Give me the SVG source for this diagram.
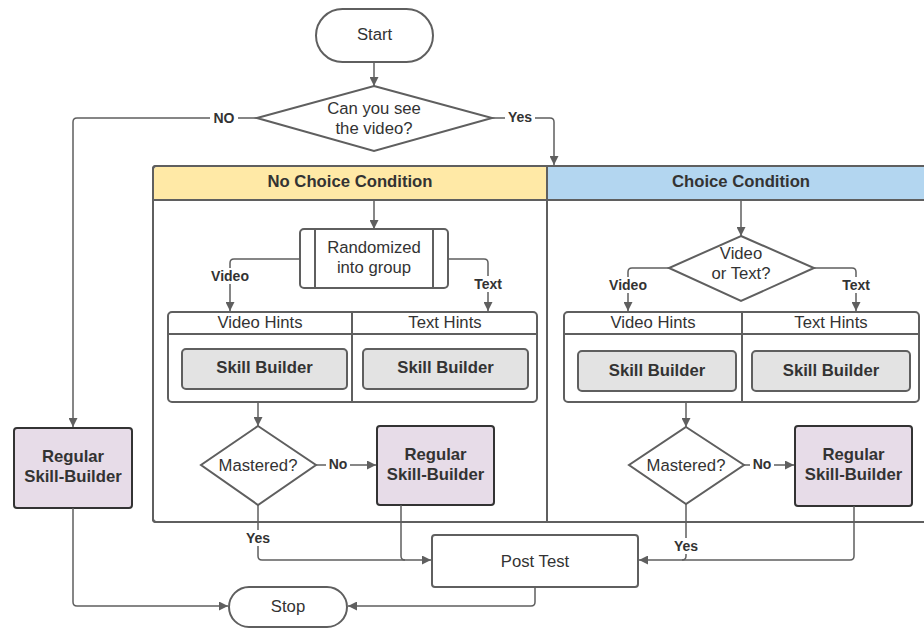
<svg xmlns="http://www.w3.org/2000/svg" width="924" height="629" viewBox="0 0 924 629">
<defs>
<marker id="ah" viewBox="0 0 10 10" refX="10" refY="5" markerWidth="9" markerHeight="9" markerUnits="userSpaceOnUse" orient="auto"><path d="M0,0 L10,5 L0,10 z" fill="#5f5f5f"/></marker>
<style>
.sh{fill:#fff;stroke:#5f5f5f;stroke-width:2}
.t{font-family:"Liberation Sans",Arial,sans-serif;font-size:16.7px;fill:#333;text-anchor:middle;dominant-baseline:central}
.b{font-weight:bold}
.lb{font-family:"Liberation Sans",Arial,sans-serif;font-size:14px;font-weight:bold;fill:#333;text-anchor:middle;dominant-baseline:central}
.c{fill:none;stroke:#5f5f5f;stroke-width:1.5}
.a{marker-end:url(#ah)}
.sb{fill:#e3e3e3;stroke:#5f5f5f;stroke-width:2}
.rg{fill:#e7dce8;stroke:#333;stroke-width:2}
.bg{fill:#fff}
</style>
</defs>
<rect width="924" height="629" fill="#fff"/>

<g id="lanes">
<rect x="153" y="166" width="790" height="356" rx="3" class="sh"/>
<path d="M156,167 H547 V199 H154 V169 Z" fill="#ffe9a6"/>
<rect x="547" y="167" width="390" height="32" fill="#b3d6f0"/>
<rect x="153" y="166" width="790" height="356" rx="3" fill="none" stroke="#5f5f5f" stroke-width="2"/>
<line x1="153" y1="200" x2="930" y2="200" stroke="#5f5f5f" stroke-width="2"/>
<line x1="547" y1="166" x2="547" y2="522" stroke="#5f5f5f" stroke-width="2"/>
<text x="350" y="181" class="t b">No Choice Condition</text>
<text x="741" y="181" class="t b">Choice Condition</text>
</g>

<g id="start">
<rect x="316" y="9" width="117" height="53" rx="26.5" class="sh"/>
<text x="374.5" y="34" class="t">Start</text>
</g>

<g id="see-video">
<polygon points="374,86 492,118 374,151 257,118" class="sh"/>
<text x="374" y="108" class="t">Can you see</text>
<text x="374" y="128" class="t">the video?</text>
</g>

<g id="regular-left">
<rect x="14" y="428" width="118" height="80" rx="3" class="rg"/>
<text x="73" y="456" class="t b">Regular</text>
<text x="73" y="476" class="t b">Skill-Builder</text>
</g>

<g id="randomized">
<rect x="300" y="229" width="148" height="59" rx="4" class="sh"/>
<line x1="315" y1="229" x2="315" y2="288" stroke="#5f5f5f" stroke-width="2"/>
<line x1="433" y1="229" x2="433" y2="288" stroke="#5f5f5f" stroke-width="2"/>
<text x="374" y="247" class="t">Randomized</text>
<text x="374" y="267" class="t">into group</text>
</g>

<g id="hints-nochoice">
<rect x="168" y="312" width="369" height="90" rx="4" class="sh"/>
<line x1="168" y1="334" x2="537" y2="334" stroke="#5f5f5f" stroke-width="2"/>
<line x1="352" y1="312" x2="352" y2="402" stroke="#5f5f5f" stroke-width="2"/>
<text x="260" y="322" class="t">Video Hints</text>
<text x="445" y="322" class="t">Text Hints</text>
<rect x="182" y="349" width="165" height="40" rx="4" class="sb"/>
<text x="264.5" y="367" class="t b">Skill Builder</text>
<rect x="363" y="349" width="165" height="40" rx="4" class="sb"/>
<text x="445.5" y="367" class="t b">Skill Builder</text>
</g>

<g id="mastered-nochoice">
<polygon points="258,426 316,465 258,505 201,465" class="sh"/>
<text x="258" y="465" class="t">Mastered?</text>
</g>

<g id="regular-nochoice">
<rect x="377" y="426" width="117" height="79" rx="3" class="rg"/>
<text x="435.5" y="454" class="t b">Regular</text>
<text x="435.5" y="474" class="t b">Skill-Builder</text>
</g>

<g id="video-or-text">
<polygon points="741,236 814,268 741,301 669,268" class="sh"/>
<text x="741" y="253" class="t">Video</text>
<text x="741" y="273" class="t">or Text?</text>
</g>

<g id="hints-choice">
<rect x="564" y="312" width="355" height="90" rx="4" class="sh"/>
<line x1="564" y1="334" x2="919" y2="334" stroke="#5f5f5f" stroke-width="2"/>
<line x1="742" y1="312" x2="742" y2="402" stroke="#5f5f5f" stroke-width="2"/>
<text x="653" y="322" class="t">Video Hints</text>
<text x="831" y="322" class="t">Text Hints</text>
<rect x="578" y="351" width="158" height="40" rx="4" class="sb"/>
<text x="657" y="370" class="t b">Skill Builder</text>
<rect x="752" y="351" width="158" height="40" rx="4" class="sb"/>
<text x="831" y="370" class="t b">Skill Builder</text>
</g>

<g id="mastered-choice">
<polygon points="686,427 744,465 686,504 629,465" class="sh"/>
<text x="686" y="465" class="t">Mastered?</text>
</g>

<g id="regular-choice">
<rect x="795" y="426" width="117" height="80" rx="3" class="rg"/>
<text x="853.5" y="454" class="t b">Regular</text>
<text x="853.5" y="474" class="t b">Skill-Builder</text>
</g>

<g id="post-test">
<rect x="432" y="535" width="206" height="52" rx="3" class="sh"/>
<text x="535" y="561" class="t">Post Test</text>
</g>

<g id="stop">
<rect x="229" y="587" width="118" height="40" rx="20" class="sh"/>
<text x="288" y="606" class="t">Stop</text>
</g>

<g id="connectors">
<path d="M374,62 V86" class="c a"/>
<path d="M257,118 H77 Q73,118 73,122 V427" class="c a"/>
<path d="M492,118 H550 Q554,118 554,122 V165" class="c a"/>
<path d="M374,200 V229" class="c a"/>
<path d="M300,259 H234 Q230,259 230,263 V311" class="c a"/>
<path d="M448,259 H484 Q488,259 488,263 V311" class="c a"/>
<path d="M258,402 V426" class="c a"/>
<path d="M316,465 H376" class="c a"/>
<path d="M258,505 V556 Q258,560 262,560 H431" class="c a"/>
<path d="M401,505 V556 Q401,560 405,560" class="c"/>
<path d="M741,200 V236" class="c a"/>
<path d="M669,268 H632 Q628,268 628,272 V311" class="c a"/>
<path d="M814,268 H852 Q856,268 856,272 V311" class="c a"/>
<path d="M686,402 V427" class="c a"/>
<path d="M744,465 H794" class="c a"/>
<path d="M854,506 V556 Q854,560 850,560 H639" class="c a"/>
<path d="M686,504 V556 Q686,560 682,560" class="c"/>
<path d="M73,508 V602 Q73,606 77,606 H228" class="c a"/>
<path d="M535,587 V602 Q535,606 531,606 H348" class="c a"/>

<rect x="210" y="110" width="28" height="16" class="bg"/>
<text x="224" y="118" class="lb">NO</text>
<rect x="505" y="109" width="30" height="16" class="bg"/>
<text x="520" y="117" class="lb">Yes</text>
<rect x="210" y="268" width="40" height="16" class="bg"/>
<text x="230" y="276" class="lb">Video</text>
<rect x="471" y="276" width="34" height="16" class="bg"/>
<text x="488" y="284" class="lb">Text</text>
<rect x="326" y="456" width="24" height="16" class="bg"/>
<text x="338" y="464" class="lb">No</text>
<rect x="243" y="530" width="30" height="16" class="bg"/>
<text x="258" y="538" class="lb">Yes</text>
<rect x="608" y="277" width="40" height="16" class="bg"/>
<text x="628" y="285" class="lb">Video</text>
<rect x="839" y="277" width="34" height="16" class="bg"/>
<text x="856" y="285" class="lb">Text</text>
<rect x="750" y="456" width="24" height="16" class="bg"/>
<text x="762" y="464" class="lb">No</text>
<rect x="671" y="538" width="30" height="16" class="bg"/>
<text x="686" y="546" class="lb">Yes</text>
</g>
</svg>
